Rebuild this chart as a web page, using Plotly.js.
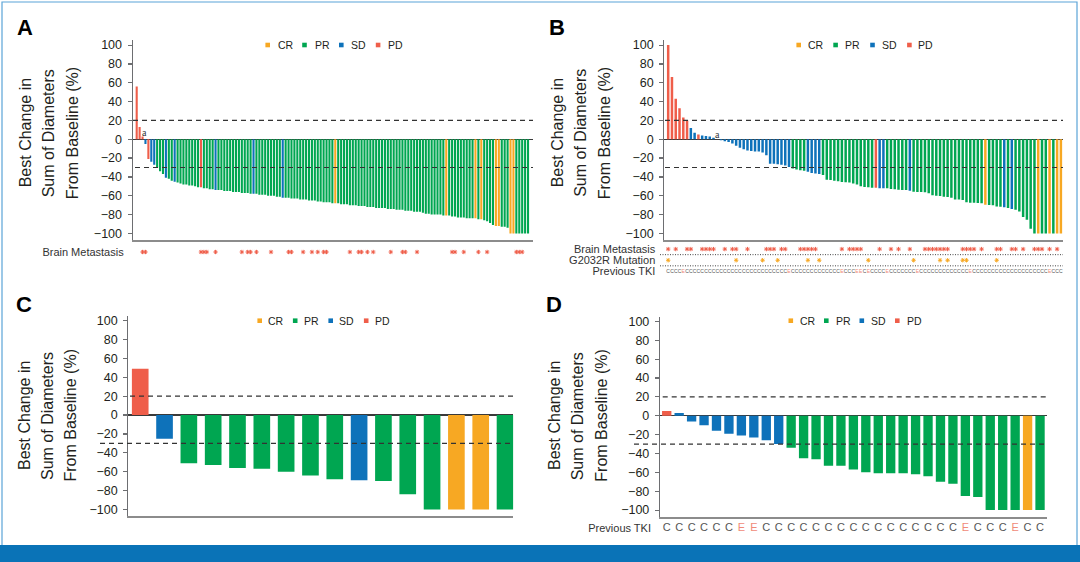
<!DOCTYPE html>
<html>
<head>
<meta charset="utf-8">
<script src="https://cdn.plot.ly/plotly-3.0.1.min.js"></script>
<style>
  html, body { margin: 0; padding: 0; background: #fff; }
  #chart { width: 1080px; height: 562px; }
</style>
</head>
<body>
<div id="chart"></div>
<script>
// response colours
const colCR = '#F7A823', colPR = '#00A651', colSD = '#0E72BA', colPD = '#EF5E4A';
const FONT = 'Liberation Sans, Arial, sans-serif';
const INK = '#231f20';

// ---------- panel A ----------
const valsA = [
  56, 13, 3, -5, -21, -24, -27, -30, -34, -37,
  -41, -42, -44, -45, -46, -47, -48, -48, -49, -49,
  -50, -51, -51, -52, -52, -53, -53, -54, -54, -54,
  -55, -55, -55, -56, -56, -56, -57, -57, -57, -58,
  -58, -58, -59, -59, -59, -60, -60, -60, -61, -61,
  -62, -62, -62, -63, -63, -63, -64, -64, -64, -65,
  -65, -65, -66, -66, -67, -67, -67, -68, -68, -68,
  -69, -69, -69, -70, -70, -70, -71, -71, -71, -72,
  -72, -72, -73, -73, -73, -73, -74, -74, -74, -75,
  -75, -75, -76, -76, -76, -77, -77, -77, -78, -79,
  -79, -80, -80, -80, -80, -81, -81, -81, -82, -82,
  -83, -83, -83, -84, -84, -84, -84, -85, -85, -86,
  -87, -89, -91, -92, -92, -93, -93, -94, -100, -100,
  -100, -100, -100, -100, -100
];
const pdA = [0, 1, 2, 4, 22];
const sdA = [3, 5, 6, 10, 13, 27, 40, 50];
const crA = [68, 106, 116, 118, 123, 124, 128, 129];
const brainA = [2, 3, 22, 23, 24, 27, 36, 38, 39, 41, 46, 52, 53, 57, 60, 62, 64, 65,
  73, 76, 77, 79, 81, 87, 91, 92, 96, 108, 109, 112, 117, 120, 130, 131, 132];
const flagA = 2;

// ---------- panel B ----------
const valsB = [
  100, 66, 43, 33, 23, 20, 12, 7, 5, 4,
  3.5, 3, 1.5, 0, -1, -2, -3, -4.5, -7, -9,
  -10.5, -12, -12.5, -13, -13, -14, -17, -26, -26, -26.5,
  -27, -28, -29.5, -31, -32, -33, -33.5, -34.4, -35.8, -36.5,
  -37, -38, -43, -43.3, -44, -44.7, -45.4, -45.7, -46, -47,
  -48, -50, -50.7, -51, -51.4, -51.4, -52, -52, -52, -52.8,
  -53, -53.5, -53.8, -54, -54.6, -55.7, -56, -56, -56.4, -57.4,
  -59.6, -60, -60.3, -61, -61.3, -62, -64, -64, -64.5, -67,
  -67.4, -67.4, -67.7, -68, -69.5, -69.9, -70.2, -71.3, -71.6, -72.3,
  -73, -74, -74.8, -76.6, -82.6, -85.5, -95, -100, -100, -100,
  -100, -100, -100, -100, -100
];
const pdB = [0, 1, 2, 3, 4, 5, 8, 55];
const sdB = [6, 7, 9, 10, 11, 12, 13, 14, 15, 16, 17, 18, 19, 20, 21, 22, 23, 24, 25,
  26, 27, 28, 29, 30, 31, 32, 37, 38, 39, 40, 56, 57, 64, 89, 91];
const crB = [84, 98, 101, 103, 104];
const brainB = [0, 2, 5, 6, 9, 10, 11, 12, 15, 17, 18, 21, 26, 27, 28, 30, 31, 35, 36, 37,
  38, 39, 46, 48, 49, 50, 51, 56, 59, 61, 64, 68, 69, 70, 71, 72, 73, 74, 78, 79, 80, 81,
  83, 87, 88, 91, 92, 94, 97, 98, 99, 101, 103];
const g2032B = [0, 18, 25, 29, 37, 40, 53, 65, 72, 74, 78, 79, 87];
const tkiEB = [4, 32, 46, 50, 51, 53, 58, 66, 80, 101];
const flagB = 13;
const rowsB = ['Previous TKI', 'G2032R Mutation', 'Brain Metastasis'];

// ---------- panel C ----------
const valsC = [49, -25, -51, -53, -56, -57, -60, -64, -68, -69, -70, -84, -100, -100, -100, -100];
const respC = ['PD', 'SD', 'PR', 'PR', 'PR', 'PR', 'PR', 'PR', 'PR', 'SD', 'PR', 'PR', 'PR', 'CR', 'CR', 'PR'];

// ---------- panel D ----------
const valsD = [5, 3, -6, -10, -16, -19, -21, -23, -26, -30,
  -34, -45, -46, -53, -53, -57, -60, -61, -61, -61,
  -62, -64, -70, -72, -85, -86, -100, -100, -100, -100, -100];
const respD = ['PD', 'SD', 'SD', 'SD', 'SD', 'SD', 'SD', 'SD', 'SD', 'SD',
  'PR', 'PR', 'PR', 'PR', 'PR', 'PR', 'PR', 'PR', 'PR', 'PR',
  'PR', 'PR', 'PR', 'PR', 'PR', 'PR', 'PR', 'PR', 'PR', 'CR', 'PR'];
const tkiD = ['C', 'C', 'C', 'C', 'C', 'C', 'E', 'E', 'C', 'C',
  'C', 'C', 'C', 'C', 'C', 'C', 'C', 'C', 'C', 'C',
  'C', 'C', 'C', 'C', 'E', 'C', 'C', 'C', 'E', 'C', 'C'];

const legendLabels = ['CR', 'PR', 'SD', 'PD'];
const thresholds = [20, -30];
const titleLines = ['Best Change in', 'Sum of Diameters', 'From Baseline (%)'];

// ---------- helpers ----------
const W = 1080, H = 562;
const px = v => v / W;
const py = v => 1 - v / H;
const colourOf = { CR: colCR, PR: colPR, SD: colSD, PD: colPD };
const legendCols = legendLabels.map(l => colourOf[l]);
const idx = arr => arr.map((_, i) => i);

function respColours(n, pd, sd, cr) {
  const c = [];
  for (let i = 0; i < n; i++) {
    if (pd.includes(i)) c.push(colPD);
    else if (sd.includes(i)) c.push(colSD);
    else if (cr.includes(i)) c.push(colCR);
    else c.push(colPR);
  }
  return c;
}

function bars(vals, colours, xa, ya, w) {
  return { type: 'bar', x: idx(vals), y: vals, xaxis: xa, yaxis: ya, width: w,
    marker: { color: colours, line: { width: 0 } }, showlegend: false, hoverinfo: 'skip' };
}

function stars(xs, row, xa, ya, col) {
  return { type: 'scatter', mode: 'markers', x: xs, y: xs.map(() => row), xaxis: xa, yaxis: ya,
    marker: { symbol: 'asterisk-open', size: 3.6, color: col, line: { color: col, width: 1 } },
    cliponaxis: false, showlegend: false, hoverinfo: 'skip' };
}

const tkiB = valsB.map((_, i) => tkiEB.includes(i) ? 'E' : 'C');
const tkiCol = t => t === 'E' ? '#F08A78' : '#555';

const data = [
  bars(valsA, respColours(valsA.length, pdA, sdA, crA), 'x', 'y', 0.72),
  bars(valsB, respColours(valsB.length, pdB, sdB, crB), 'x2', 'y2', 0.66),
  bars(valsC, respC.map(r => colourOf[r]), 'x3', 'y3', 0.685),
  bars(valsD, respD.map(r => colourOf[r]), 'x4', 'y4', 0.75),
  stars(brainA, 'Brain Metastasis', 'x', 'y5', colPD),
  stars(brainB, 'Brain Metastasis', 'x2', 'y6', colPD),
  stars(g2032B, 'G2032R Mutation', 'x2', 'y6', colCR),
  { type: 'scatter', mode: 'text', x: idx(tkiB), y: tkiB.map(() => 'Previous TKI'), text: tkiB,
    xaxis: 'x2', yaxis: 'y6', textfont: { family: FONT, size: 5, color: tkiB.map(tkiCol) },
    cliponaxis: false, showlegend: false, hoverinfo: 'skip' },
  { type: 'scatter', mode: 'text', x: idx(tkiD), y: tkiD.map(() => 'Previous TKI'), text: tkiD,
    xaxis: 'x4', yaxis: 'y7', textfont: { family: FONT, size: 11, color: tkiD.map(tkiCol) },
    cliponaxis: false, showlegend: false, hoverinfo: 'skip' }
];

// ---------- axes ----------
const xBase = { showline: true, linecolor: '#8c8c8c', linewidth: 2, showticklabels: false,
  ticks: '', showgrid: false, zeroline: false, fixedrange: true };
const yBase = { range: [-107, 105], tick0: 0, dtick: 20, showline: true, linecolor: '#6d6e71',
  linewidth: 1.2, ticks: 'outside', ticklen: 4, tickwidth: 1.2, tickcolor: '#6d6e71',
  showgrid: false, zeroline: true, zerolinecolor: '#3a3a3a', zerolinewidth: 1.4,
  tickfont: { family: FONT, size: 12.5, color: INK }, ticklabelstandoff: 3,
  layer: 'above traces', fixedrange: true };
const rowAxis = { type: 'category', showline: false, showgrid: false, zeroline: false, ticks: '',
  tickfont: { family: FONT, size: 11, color: '#333' }, ticklabelstandoff: 8, fixedrange: true };

const layout = {
  width: W, height: H,
  margin: { l: 0, r: 0, t: 0, b: 0 },
  paper_bgcolor: '#fff', plot_bgcolor: 'rgba(0,0,0,0)',
  showlegend: false,
  xaxis:  { ...xBase, domain: [px(132.7), px(532.7)], range: [-1.37, 135.6], anchor: 'y' },
  yaxis:  { ...yBase, domain: [py(240), py(40.4)], anchor: 'x' },
  xaxis2: { ...xBase, domain: [px(664.3), px(1063)], range: [-1.03, 104.56], anchor: 'y2' },
  yaxis2: { ...yBase, domain: [py(240), py(40.4)], anchor: 'x2' },
  xaxis3: { ...xBase, domain: [px(128.3), px(513.3)], range: [-0.49, 15.34], anchor: 'y3' },
  yaxis3: { ...yBase, domain: [py(516), py(316)], anchor: 'x3' },
  xaxis4: { ...xBase, domain: [px(660), px(1047)], range: [-0.54, 30.56], anchor: 'y4' },
  yaxis4: { ...yBase, domain: [py(516.7), py(316.7)], anchor: 'x4' },
  yaxis5: { ...rowAxis, domain: [py(258), py(246)], anchor: 'x', range: [-0.5, 0.5],
    categoryorder: 'array', categoryarray: ['Brain Metastasis'],
    tickmode: 'array', tickvals: ['Brain Metastasis'], ticktext: ['Brain Metastasis'] },
  yaxis6: { ...rowAxis, domain: [py(277), py(243.5)], anchor: 'x2', range: [-0.5, 2.5],
    categoryorder: 'array', categoryarray: rowsB,
    tickmode: 'array', tickvals: rowsB, ticktext: rowsB },
  yaxis7: { ...rowAxis, domain: [py(534), py(522)], anchor: 'x4', range: [-0.5, 0.5],
    categoryorder: 'array', categoryarray: ['Previous TKI'],
    tickmode: 'array', tickvals: ['Previous TKI'], ticktext: ['Previous TKI'] },
  shapes: [],
  annotations: []
};

// frame and bottom band
layout.shapes.push({ type: 'rect', xref: 'paper', yref: 'paper', x0: px(2), x1: px(1077), y0: py(560), y1: py(2),
  line: { color: '#5BA4D8', width: 1.2 }, layer: 'below' });
layout.shapes.push({ type: 'rect', xref: 'paper', yref: 'paper', x0: 0, x1: 1, y0: 0, y1: py(545),
  fillcolor: '#0A73B7', line: { width: 0 }, layer: 'above' });

// threshold lines: [yref, start px for +20, start px for -30, end px]
const dashSpecs = [['y', 133, 135, 533], ['y2', 665, 665, 1063], ['y3', 130, 100, 513.3], ['y4', 662.7, 634, 1047]];
dashSpecs.forEach(([yr, s20, s30, e]) => {
  [s20, s30].forEach((s, k) => {
    layout.shapes.push({ type: 'line', xref: 'paper', yref: yr, x0: px(s), x1: px(e),
      y0: thresholds[k], y1: thresholds[k], line: { color: '#333', width: 1.2, dash: '5px,4px' }, layer: 'above' });
  });
});

// dotted separators between the rows of panel B
[0.5, 1.5].forEach(v => {
  layout.shapes.push({ type: 'line', xref: 'paper', yref: 'y6', x0: px(660), x1: px(1063), y0: v, y1: v,
    line: { color: '#444', width: 1, dash: '1px,1.5px' } });
});

// legends: [first marker centre px, spacing, text offset, y px]
const legendSpecs = [[267.7, 36.8, 9, 45], [798.7, 36.9, 8, 45], [259.7, 35.5, 7.3, 320.7], [790.8, 35.5, 8.5, 320.7]];
legendSpecs.forEach(([x0, dx, off, y]) => {
  legendLabels.forEach((lab, i) => {
    const cx = x0 + i * dx;
    layout.shapes.push({ type: 'rect', xref: 'paper', yref: 'paper', x0: px(cx - 2.3), x1: px(cx + 2.3),
      y0: py(y + 2.3), y1: py(y - 2.3), fillcolor: legendCols[i], line: { width: 0 } });
    layout.annotations.push({ xref: 'paper', yref: 'paper', x: px(cx + off - 1), y: py(y), xanchor: 'left',
      yanchor: 'middle', showarrow: false, text: lab, font: { family: FONT, size: 10.5, color: INK } });
  });
});

// panel letters
[['A', 25, 27.5], ['B', 557, 27.5], ['C', 23.5, 304], ['D', 554, 304]].forEach(([t, x, y]) => {
  layout.annotations.push({ xref: 'paper', yref: 'paper', x: px(x), y: py(y), xanchor: 'center', yanchor: 'middle',
    showarrow: false, text: '<b>' + t + '</b>', font: { family: FONT, size: 22, color: '#000' } });
});

// y axis titles, three lines each: [column centres px, vertical centre px]
[[[25, 48, 72], 133.3], [[557, 580.5, 604], 133.3], [[25, 48, 70.5], 416], [[555, 578.3, 601.7], 416]].forEach(([cols, yc]) => {
  titleLines.forEach((line, i) => {
    layout.annotations.push({ xref: 'paper', yref: 'paper', x: px(cols[i]), y: py(yc), xanchor: 'center',
      yanchor: 'middle', textangle: -90, showarrow: false, text: line, font: { family: FONT, size: 16, color: INK } });
  });
});

// footnote markers "a"
layout.annotations.push({ xref: 'x', yref: 'y', x: flagA, y: valsA[flagA], xshift: 2, yshift: 4, yanchor: 'middle',
  showarrow: false, text: 'a', font: { family: 'Liberation Serif, serif', size: 10, color: '#333' } });
layout.annotations.push({ xref: 'x2', yref: 'y2', x: flagB, y: valsB[flagB], xshift: 0, yshift: 4.5, yanchor: 'middle',
  showarrow: false, text: 'a', font: { family: 'Liberation Serif, serif', size: 10, color: '#333' } });

Plotly.newPlot('chart', data, layout, { staticPlot: true, displayModeBar: false });
</script>
</body>
</html>
